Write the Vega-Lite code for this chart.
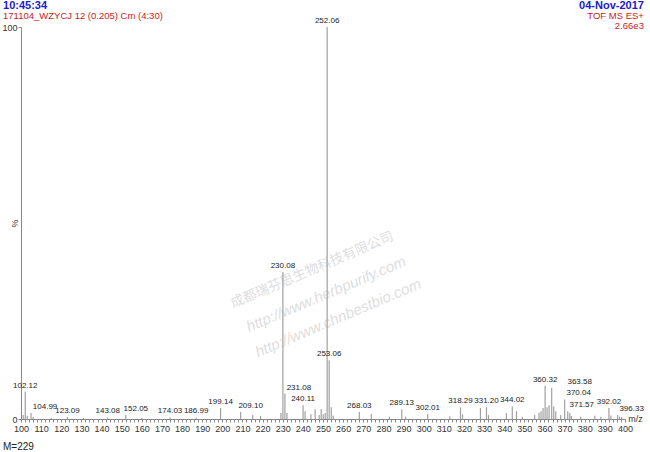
{
  "$schema": "https://vega.github.io/schema/vega-lite/v6.json",
  "width": 604,
  "height": 392,
  "autosize": {"type": "none"},
  "padding": {"left": 21, "top": 27, "right": 25, "bottom": 33},
  "background": "white",
  "config": {
    "view": {"stroke": null},
    "font": "Liberation Sans",
    "axis": {"grid": false, "labelFont": "Liberation Sans", "titleFont": "Liberation Sans"}
  },
  "datasets": {
    "peaks": [
      {"mz": 101.1, "int": 1.0, "labeled": false},
      {"mz": 102.12, "int": 7.0, "labeled": true},
      {"mz": 103.1, "int": 0.8, "labeled": false},
      {"mz": 104.99, "int": 1.5, "labeled": true},
      {"mz": 106.0, "int": 0.5, "labeled": false},
      {"mz": 115.0, "int": 0.3, "labeled": false},
      {"mz": 123.09, "int": 0.5, "labeled": true},
      {"mz": 131.0, "int": 0.3, "labeled": false},
      {"mz": 143.08, "int": 0.4, "labeled": true},
      {"mz": 152.05, "int": 1.0, "labeled": true},
      {"mz": 160.0, "int": 0.3, "labeled": false},
      {"mz": 174.03, "int": 0.4, "labeled": true},
      {"mz": 186.99, "int": 0.4, "labeled": true},
      {"mz": 199.14, "int": 2.8, "labeled": true},
      {"mz": 209.10, "int": 1.8, "labeled": true},
      {"mz": 215.1, "int": 1.0, "labeled": false},
      {"mz": 219.0, "int": 0.8, "labeled": false},
      {"mz": 229.1, "int": 1.5, "labeled": false},
      {"mz": 230.08, "int": 37.5, "labeled": true},
      {"mz": 231.08, "int": 6.5, "labeled": true},
      {"mz": 232.1, "int": 1.5, "labeled": false},
      {"mz": 240.11, "int": 3.5, "labeled": true},
      {"mz": 241.1, "int": 2.0, "labeled": false},
      {"mz": 244.0, "int": 1.2, "labeled": false},
      {"mz": 246.1, "int": 2.5, "labeled": false},
      {"mz": 248.1, "int": 1.0, "labeled": false},
      {"mz": 249.1, "int": 2.5, "labeled": false},
      {"mz": 250.1, "int": 1.2, "labeled": false},
      {"mz": 251.1, "int": 1.5, "labeled": false},
      {"mz": 252.06, "int": 100, "labeled": true},
      {"mz": 253.06, "int": 15.0, "labeled": true},
      {"mz": 254.1, "int": 3.0, "labeled": false},
      {"mz": 255.1, "int": 0.8, "labeled": false},
      {"mz": 268.03, "int": 1.8, "labeled": true},
      {"mz": 274.0, "int": 1.3, "labeled": false},
      {"mz": 283.0, "int": 0.6, "labeled": false},
      {"mz": 289.13, "int": 2.5, "labeled": true},
      {"mz": 291.0, "int": 0.6, "labeled": false},
      {"mz": 302.01, "int": 1.2, "labeled": true},
      {"mz": 313.0, "int": 0.7, "labeled": false},
      {"mz": 318.29, "int": 3.0, "labeled": true},
      {"mz": 319.3, "int": 1.2, "labeled": false},
      {"mz": 328.2, "int": 2.8, "labeled": false},
      {"mz": 331.20, "int": 3.0, "labeled": true},
      {"mz": 332.2, "int": 1.0, "labeled": false},
      {"mz": 341.1, "int": 1.5, "labeled": false},
      {"mz": 344.02, "int": 3.2, "labeled": true},
      {"mz": 346.1, "int": 2.0, "labeled": false},
      {"mz": 349.0, "int": 0.6, "labeled": false},
      {"mz": 355.1, "int": 1.0, "labeled": false},
      {"mz": 357.3, "int": 1.6, "labeled": false},
      {"mz": 358.3, "int": 2.0, "labeled": false},
      {"mz": 359.3, "int": 2.8, "labeled": false},
      {"mz": 360.32, "int": 8.5, "labeled": true},
      {"mz": 361.3, "int": 3.0, "labeled": false},
      {"mz": 362.3, "int": 3.5, "labeled": false},
      {"mz": 363.58, "int": 8.0, "labeled": true},
      {"mz": 364.6, "int": 3.2, "labeled": false},
      {"mz": 365.6, "int": 2.0, "labeled": false},
      {"mz": 368.0, "int": 1.0, "labeled": false},
      {"mz": 370.04, "int": 5.0, "labeled": true},
      {"mz": 371.57, "int": 2.0, "labeled": true},
      {"mz": 372.6, "int": 1.5, "labeled": false},
      {"mz": 373.4, "int": 0.8, "labeled": false},
      {"mz": 378.0, "int": 0.6, "labeled": false},
      {"mz": 385.0, "int": 0.8, "labeled": false},
      {"mz": 388.0, "int": 0.6, "labeled": false},
      {"mz": 392.02, "int": 2.8, "labeled": true},
      {"mz": 393.0, "int": 0.9, "labeled": false},
      {"mz": 396.33, "int": 1.0, "labeled": true},
      {"mz": 397.3, "int": 0.6, "labeled": false},
      {"mz": 398.3, "int": 0.5, "labeled": false}
    ]
  },
  "layer": [
    {
      "data": {"values": [{}]},
      "mark": {"type": "text", "angle": -23, "fontSize": 13.5, "fill": "#dedede", "align": "center", "baseline": "middle", "font": "Noto Sans CJK SC"},
      "encoding": {"x": {"datum": 244.6, "type": "quantitative"}, "y": {"datum": 38.0, "type": "quantitative"}, "text": {"value": "成都瑞芬思生物科技有限公司"}}
    },
    {
      "data": {"values": [{}]},
      "mark": {"type": "text", "angle": -23, "fontSize": 15, "fontStyle": "italic", "fill": "#dedede", "align": "center", "baseline": "middle"},
      "encoding": {"x": {"datum": 251.5, "type": "quantitative"}, "y": {"datum": 31.9, "type": "quantitative"}, "text": {"value": "http://www.herbpurify.com"}}
    },
    {
      "data": {"values": [{}]},
      "mark": {"type": "text", "angle": -23, "fontSize": 15, "fontStyle": "italic", "fill": "#dedede", "align": "center", "baseline": "middle"},
      "encoding": {"x": {"datum": 257.5, "type": "quantitative"}, "y": {"datum": 25.8, "type": "quantitative"}, "text": {"value": "http://www.chnbestbio.com"}}
    },
    {
      "data": {"name": "peaks"},
      "mark": {"type": "rule", "color": "#a0a0a0", "strokeWidth": 1.2},
      "encoding": {
        "x": {
          "field": "mz", "type": "quantitative",
          "scale": {"domain": [100, 400], "nice": false, "zero": false},
          "axis": {
            "title": "m/z", "titleFontSize": 9, "titleFontWeight": "normal", "titleColor": "#333",
            "titleX": 614, "titleY": -1, "titleAlign": "center", "titleBaseline": "middle", "titleAnchor": null,
            "tickCount": 150, "labelExpr": "datum.value % 10 === 0 ? datum.label : ''",
            "labelOverlap": false, "labelFlush": false, "labelFontSize": 9, "labelColor": "#333", "labelPadding": 2,
            "tickSize": 3, "tickColor": "#888", "domainColor": "#888", "format": "d"
          }
        },
        "y": {
          "field": "int", "type": "quantitative",
          "scale": {"domain": [0, 100], "nice": false},
          "axis": {
            "title": "%", "titleFontSize": 9, "titleFontWeight": "normal", "titleColor": "#333",
            "titleX": -7, "titleY": 196, "titleAlign": "center", "titleBaseline": "middle", "titleAnchor": null,
            "values": [0, 100], "labelFontSize": 9, "labelColor": "#333", "labelPadding": 1,
            "tickSize": 3, "tickColor": "#888", "domainColor": "#888"
          }
        },
        "y2": {"datum": 0}
      }
    },
    {
      "data": {"name": "peaks"},
      "transform": [{"filter": "datum.labeled && indexof([104.99, 231.08, 370.04, 371.57, 396.33, 209.10, 152.05, 363.58], datum.mz) < 0"}],
      "mark": {"type": "text", "fontSize": 8, "color": "#222", "baseline": "bottom", "dy": -2},
      "encoding": {
        "x": {"field": "mz", "type": "quantitative"},
        "y": {"field": "int", "type": "quantitative"},
        "text": {"field": "mz", "type": "quantitative", "format": ".2f"}
      }
    },
    {
      "data": {"name": "peaks"},
      "transform": [{"filter": "indexof([104.99, 231.08, 370.04, 371.57, 396.33], datum.mz) >= 0"}],
      "mark": {"type": "text", "fontSize": 8, "color": "#222", "baseline": "bottom", "dy": -2, "dx": 14},
      "encoding": {
        "x": {"field": "mz", "type": "quantitative"},
        "y": {"field": "int", "type": "quantitative"},
        "text": {"field": "mz", "type": "quantitative", "format": ".2f"}
      }
    },
    {
      "data": {"name": "peaks"},
      "transform": [{"filter": "indexof([209.10, 152.05], datum.mz) >= 0"}],
      "mark": {"type": "text", "fontSize": 8, "color": "#222", "baseline": "bottom", "dy": -2, "dx": 10},
      "encoding": {
        "x": {"field": "mz", "type": "quantitative"},
        "y": {"field": "int", "type": "quantitative"},
        "text": {"field": "mz", "type": "quantitative", "format": ".2f"}
      }
    },
    {
      "data": {"name": "peaks"},
      "transform": [{"filter": "datum.mz == 363.58"}],
      "mark": {"type": "text", "fontSize": 8, "color": "#222", "baseline": "bottom", "dy": -2, "dx": 28},
      "encoding": {
        "x": {"field": "mz", "type": "quantitative"},
        "y": {"field": "int", "type": "quantitative"},
        "text": {"field": "mz", "type": "quantitative", "format": ".2f"}
      }
    },
    {
      "data": {"values": [{}]},
      "mark": {"type": "text", "fontSize": 11, "fontWeight": "bold", "color": "#1a1acc", "align": "left", "baseline": "middle"},
      "encoding": {"x": {"datum": 91.07, "type": "quantitative"}, "y": {"datum": 105.4, "type": "quantitative"}, "text": {"value": "10:45:34"}}
    },
    {
      "data": {"values": [{}]},
      "mark": {"type": "text", "fontSize": 9.5, "color": "#cc1a1a", "align": "left", "baseline": "middle"},
      "encoding": {"x": {"datum": 91.07, "type": "quantitative"}, "y": {"datum": 102.8, "type": "quantitative"}, "text": {"value": "171104_WZYCJ 12 (0.205) Cm (4:30)"}}
    },
    {
      "data": {"values": [{}]},
      "mark": {"type": "text", "fontSize": 11, "fontWeight": "bold", "color": "#1a1acc", "align": "right", "baseline": "middle"},
      "encoding": {"x": {"datum": 409.4, "type": "quantitative"}, "y": {"datum": 105.4, "type": "quantitative"}, "text": {"value": "04-Nov-2017"}}
    },
    {
      "data": {"values": [{}]},
      "mark": {"type": "text", "fontSize": 9.5, "color": "#cc1a1a", "align": "right", "baseline": "middle"},
      "encoding": {"x": {"datum": 409.4, "type": "quantitative"}, "y": {"datum": 102.8, "type": "quantitative"}, "text": {"value": "TOF MS ES+"}}
    },
    {
      "data": {"values": [{}]},
      "mark": {"type": "text", "fontSize": 9.5, "color": "#cc1a1a", "align": "right", "baseline": "middle"},
      "encoding": {"x": {"datum": 409.4, "type": "quantitative"}, "y": {"datum": 100.3, "type": "quantitative"}, "text": {"value": "2.66e3"}}
    },
    {
      "data": {"values": [{}]},
      "mark": {"type": "text", "fontSize": 10, "color": "#222", "align": "left", "baseline": "middle"},
      "encoding": {"x": {"datum": 91.07, "type": "quantitative"}, "y": {"datum": -7.14, "type": "quantitative"}, "text": {"value": "M=229"}}
    }
  ]
}
